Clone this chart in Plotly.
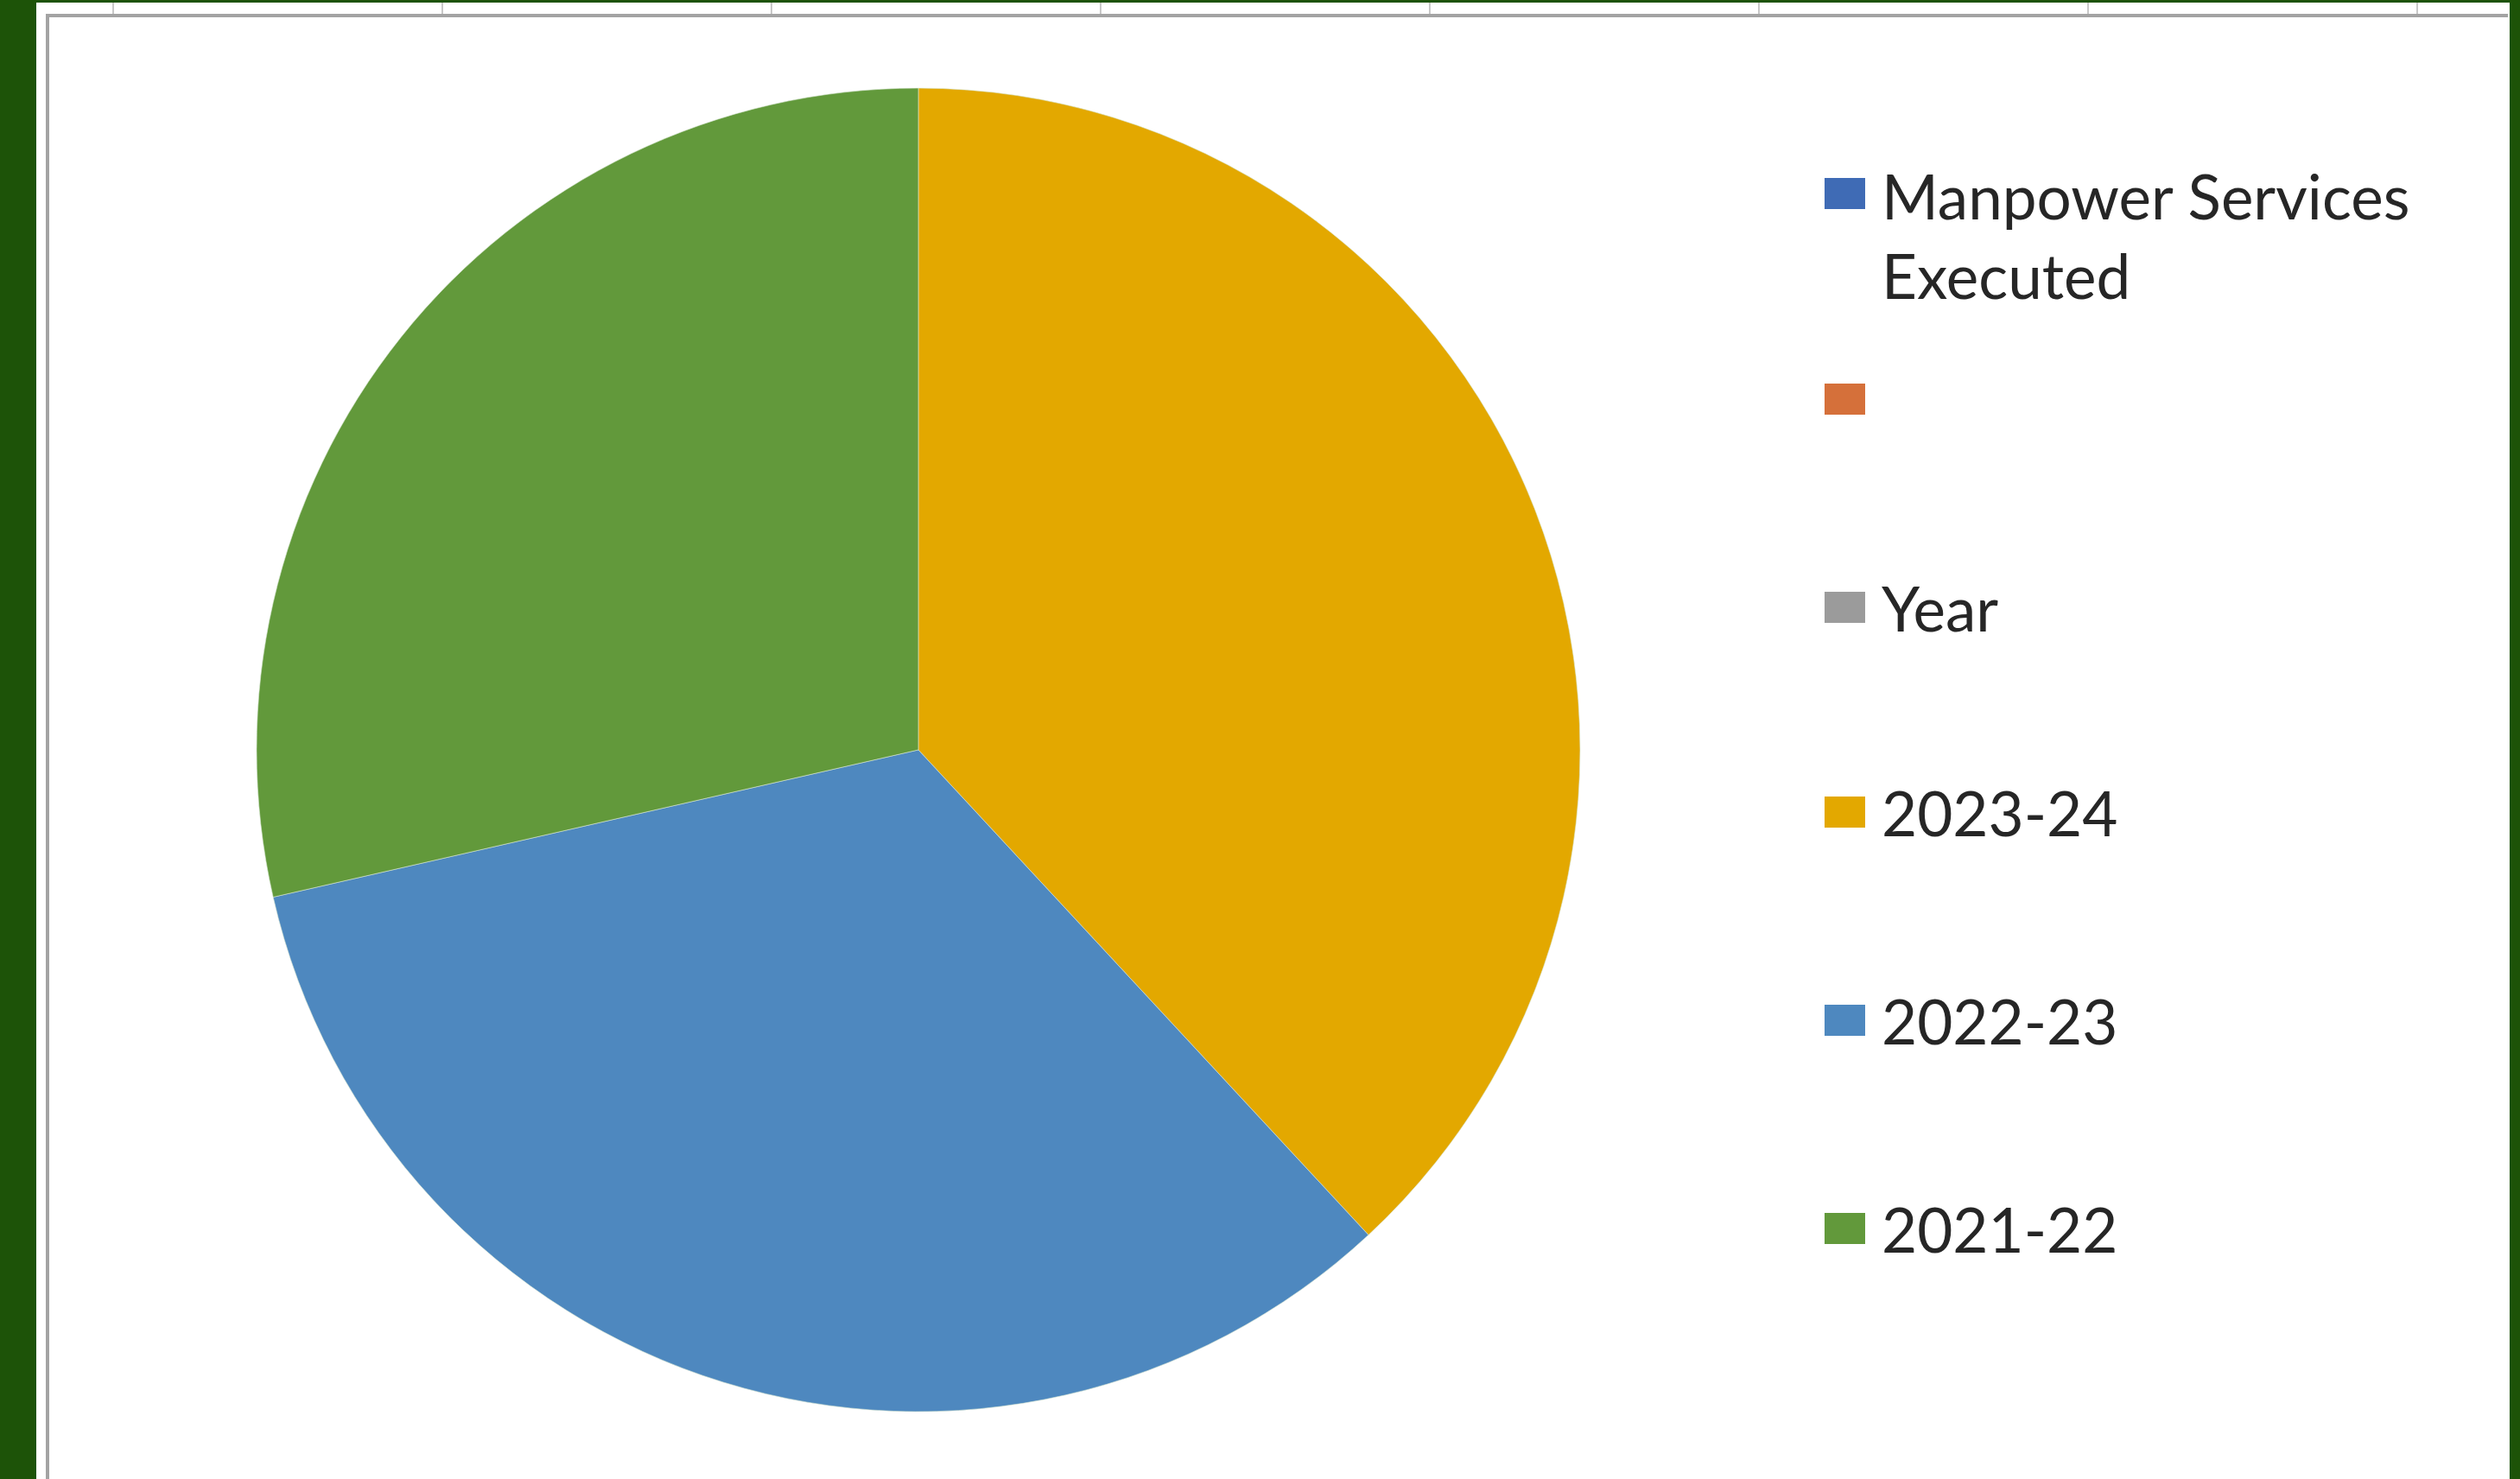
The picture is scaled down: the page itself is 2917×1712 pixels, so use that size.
import plotly.graph_objects as go

# ---- data ----
categories = ["Manpower Services Executed", "", "Year", "2023-24", "2022-23", "2021-22"]
services = [0, 0, 0, 40, 35, 30]
slice_colors = ["#3F6BB5", "#D5703A", "#9B9B9B", "#E3A800", "#4E88BF", "#62993B"]
legend_text = ["Manpower Services<br>Executed", "", "Year", "2023-24", "2022-23", "2021-22"]

W, H = 2917, 1712


def px(x):
    return x / W


def py(y):
    return 1 - y / H


fig = go.Figure()

fig.add_trace(go.Pie(
    labels=[c if c else " " for c in categories],
    values=services,
    marker=dict(colors=slice_colors, line=dict(color="rgba(215,230,210,0.6)", width=1)),
    sort=False,
    direction="clockwise",
    rotation=0,
    textinfo="none",
    showlegend=False,
    domain=dict(x=[px(297), px(1829)], y=[py(1634), py(102)]),
))

shapes = []
annotations = []

# ---- worksheet frame around the chart ----
dark_green = "#1D5308"
shapes.append(dict(type="rect", xref="paper", yref="paper", x0=px(0), x1=px(42), y0=0, y1=1,
                   fillcolor=dark_green, line=dict(width=0), layer="above"))
shapes.append(dict(type="rect", xref="paper", yref="paper", x0=px(2905), x1=1, y0=0, y1=1,
                   fillcolor=dark_green, line=dict(width=0), layer="above"))
shapes.append(dict(type="rect", xref="paper", yref="paper", x0=0, x1=1, y0=py(3), y1=1,
                   fillcolor=dark_green, line=dict(width=0), layer="above"))
for gx in [131, 512, 893, 1274, 1655, 2036, 2417, 2798]:
    shapes.append(dict(type="line", xref="paper", yref="paper", x0=px(gx), x1=px(gx),
                       y0=py(16), y1=py(3), line=dict(color="#c8c8c8", width=2)))
shapes.append(dict(type="line", xref="paper", yref="paper", x0=px(55), x1=px(55),
                   y0=0, y1=py(18), line=dict(color="#a3a3a3", width=4)))
shapes.append(dict(type="line", xref="paper", yref="paper", x0=px(53), x1=px(2903),
                   y0=py(18), y1=py(18), line=dict(color="#a3a3a3", width=4)))

# ---- legend (Excel style, large square markers) ----
item_y = [272, 462, 703, 940, 1181, 1422]   # centre of each entry's text
marker_y = [224, 462, 703, 940, 1181, 1422]
for i, lab in enumerate(legend_text):
    my = marker_y[i]
    shapes.append(dict(type="rect", xref="paper", yref="paper",
                       x0=px(2112), x1=px(2159), y0=py(my + 18), y1=py(my - 18),
                       fillcolor=slice_colors[i], line=dict(width=0)))
    if lab:
        annotations.append(dict(
            x=px(2176), y=py(item_y[i]), xref="paper", yref="paper",
            xanchor="left", yanchor="middle", align="left", showarrow=False,
            text=lab, font=dict(family="Lato", size=71, color="#262626"),
        ))

fig.update_layout(
    width=W, height=H, autosize=False,
    margin=dict(l=0, r=0, t=0, b=0),
    paper_bgcolor="white", plot_bgcolor="white",
    shapes=shapes, annotations=annotations,
    showlegend=False,
)

fig.write_html("out.html", config={"displayModeBar": False},
               post_script="document.body.style.margin='0';")
